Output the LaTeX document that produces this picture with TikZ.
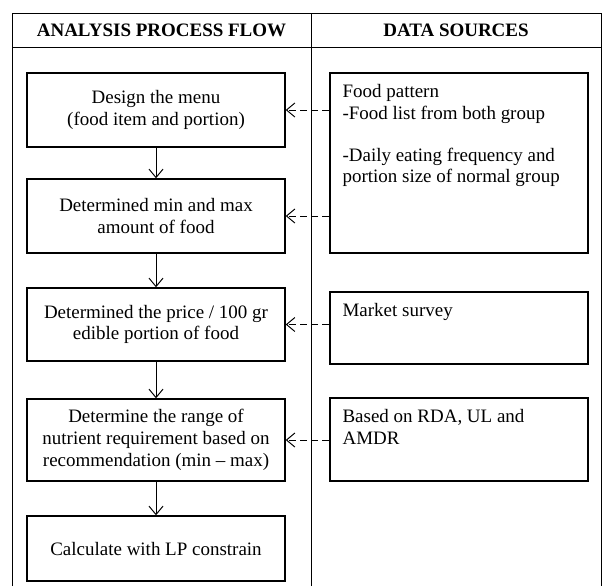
\documentclass[tikz,border=0pt]{standalone}
\usepackage{fontspec}
\setmainfont{Liberation Serif}
\usetikzlibrary{arrows.meta, positioning, calc}

\begin{document}
\begin{tikzpicture}[
    myarrow/.style={-{Straight Barb[length=6pt, width=10pt]}, line width=0.7pt},
    dasharrow/.style={myarrow, dash pattern=on 5pt off 3pt},
    flowbox/.style={draw, line width=1pt, minimum width=6.45cm, align=center,
                    font=\fontsize{13.5}{15.5}\selectfont},
    srcbox/.style={draw, line width=1pt, minimum width=6.45cm},
    srctext/.style={anchor=north west, inner sep=0pt, align=left,
                    font=\fontsize{13.5}{15.5}\selectfont},
    heading/.style={font=\fontsize{13.5}{15.5}\selectfont\bfseries},
]
\useasboundingbox (0, 0) rectangle (15.05, 14.65);

% ===================== TABLE FRAME =====================
\draw[line width=0.6pt] (0.3, 0) |- (15.025, 14.325) -- (15.025, 0);
\draw[line width=0.6pt] (0.3, 13.475) -- (15.025, 13.475);
\draw[line width=0.6pt] (7.775, 0) -- (7.775, 14.325);

\node[heading] (headflow) at (4.0375, 13.9) {ANALYSIS PROCESS FLOW};
\node[heading] (headsrc) at (11.4, 13.9) {DATA SOURCES};

% ===================== PROCESS FLOW =====================
\node[flowbox, minimum height=1.85cm] (flow1) at (3.9, 11.9)
    {Design the menu\\(food item and portion)};
\node[flowbox, minimum height=1.85cm] (flow2) at (3.9, 9.25)
    {Determined min and max\\amount of food};
\node[flowbox, minimum height=1.825cm] (flow3) at (3.9, 6.5375)
    {Determined the price / 100 gr\\edible portion of food};
\node[flowbox, minimum height=2.05cm] (flow4) at (3.9, 3.65)
    {Determine the range of\\nutrient requirement based on\\recommendation (min -- max)};
\node[flowbox, minimum height=1.625cm] (flow5) at (3.9, 0.9375)
    {Calculate with LP constrain};

\foreach \a/\b in {flow1/flow2, flow2/flow3, flow3/flow4, flow4/flow5} {
    \draw[myarrow] (\a.south) -- (\b.north);
}

% ===================== DATA SOURCES =====================
\node[srcbox, minimum height=4.5cm] (srcA) at (11.475, 10.575) {};
\node[srctext] (srcAtext) at ($(srcA.north west) + (0.325, -0.3)$) {%
    Food pattern\\
    -Food list from both group\\[14pt]
    -Daily eating frequency and\\
    portion size of normal group};

\node[srcbox, minimum height=1.8cm] (srcB) at (11.475, 6.45) {};
\node[srctext] (srcBtext) at ($(srcB.north west) + (0.325, -0.3)$) {Market survey};

\node[srcbox, minimum height=2.075cm] (srcC) at (11.475, 3.6625) {};
\node[srctext] (srcCtext) at ($(srcC.north west) + (0.325, -0.3)$) {%
    Based on RDA, UL and\\
    AMDR};

% ===================== SOURCE ARROWS =====================
\draw[dasharrow] (srcA.west |- flow1.east) -- (flow1.east);
\draw[dasharrow] (srcA.west |- flow2.east) -- (flow2.east);
\draw[dasharrow] (srcB.west |- flow3.east) -- (flow3.east);
\draw[dasharrow] (srcC.west |- flow4.east) -- (flow4.east);

\end{tikzpicture}
\end{document}
